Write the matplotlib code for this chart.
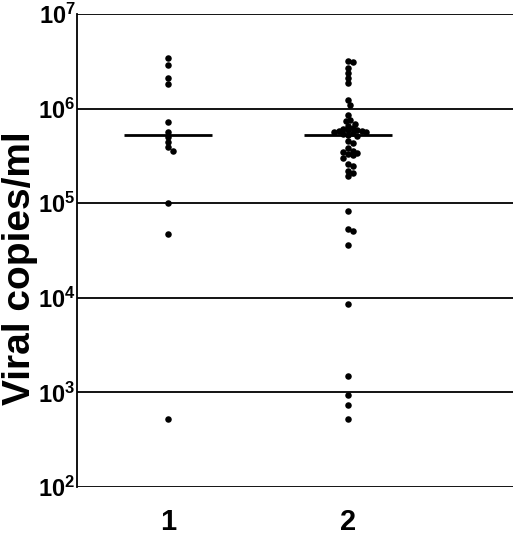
import numpy as np
import matplotlib
matplotlib.use("Agg")
import matplotlib.pyplot as plt

plt.rcParams['font.family'] = ['Liberation Sans', 'DejaVu Sans']
plt.rcParams['mathtext.fontset'] = 'custom'
plt.rcParams['mathtext.rm'] = 'Liberation Sans'
plt.rcParams['mathtext.bf'] = 'Liberation Sans:bold'

groups = ["1", "2"]
group1 = [3.4e6, 2.9e6, 2.1e6, 1.8e6, 7.2e5, 5.6e5, 5.0e5, 4.4e5, 3.9e5,
          3.6e5, 1.0e5, 4.7e4, 5.2e2]
group2 = [3.2e6, 3.1e6, 2.7e6, 2.4e6, 2.1e6, 1.85e6, 1.23e6, 1.1e6,
          8.5e5, 7.6e5, 7.4e5, 6.6e5, 6.9e5,
          6.2e5, 5.9e5, 6.1e5, 5.8e5, 6.0e5, 5.7e5, 5.8e5,
          5.4e5, 5.5e5, 5.2e5, 5.6e5, 5.1e5,
          4.6e5, 4.3e5,
          3.6e5, 3.8e5, 3.4e5, 3.3e5, 3.5e5,
          3.2e5, 3.0e5,
          2.6e5, 2.5e5,
          2.2e5, 2.1e5, 1.95e5,
          8.3e4, 5.4e4, 5.1e4, 3.6e4, 8.7e3, 1.5e3, 9.4e2, 7.4e2, 5.2e2]
medians = [5.3e5, 5.3e5]
ytick_vals = [1e2, 1e3, 1e4, 1e5, 1e6, 1e7]
ytick_labels = [r"$\mathbf{10^{2}}$", r"$\mathbf{10^{3}}$", r"$\mathbf{10^{4}}$",
                r"$\mathbf{10^{5}}$", r"$\mathbf{10^{6}}$", r"$\mathbf{10^{7}}$"]

fig = plt.figure(figsize=(5.2, 5.4), dpi=100)
ax = fig.add_axes([77/520, 1 - 487/540, (513-77)/520, (487-14)/540])
ax.set_yscale('log')
ax.set_ylim(1e2, 1e7)
ax.set_xlim(0.494, 2.917)

fig.canvas.draw()

def swarm(values, xc, diam_px=4.6):
    # beeswarm offsets computed in display space
    order = np.argsort(values)[::-1]
    placed = []
    offsets = np.zeros(len(values))
    trans = ax.transData
    x0, _ = trans.transform((xc, 1))
    cands = [0.0]
    for n in range(1, 20):
        cands += [n * 0.5 * diam_px, -n * 0.5 * diam_px]
    for i in order:
        _, yp = trans.transform((xc, values[i]))
        for dx in cands:
            if all((px - dx) ** 2 + (py - yp) ** 2 >= diam_px ** 2
                   for (px, py) in placed):
                placed.append((dx, yp))
                offsets[i] = trans.inverted().transform((x0 + dx, yp))[0]
                break
    return offsets

for gi, vals in enumerate([group1, group2]):
    xc = gi + 1
    xs = swarm(np.array(vals), xc)
    ax.scatter(xs, vals, s=22, color='black', zorder=3, linewidths=0)
    ax.plot([xc - 0.245, xc + 0.245], [medians[gi], medians[gi]],
            color='black', lw=2, zorder=2, solid_capstyle='butt')

for v in ytick_vals:
    ax.axhline(v, color='black', lw=1.3, zorder=1)

for s in ['top', 'right', 'bottom']:
    ax.spines[s].set_visible(False)
ax.spines['left'].set_linewidth(1.3)

ax.set_yticks(ytick_vals)
ax.set_yticklabels(ytick_labels, fontsize=17)
ax.yaxis.set_minor_locator(matplotlib.ticker.NullLocator())
ax.tick_params(axis='y', length=0, pad=1)
ax.set_xticks([1, 2])
ax.set_xticklabels(groups, fontsize=21, fontweight='bold')
ax.tick_params(axis='x', length=0, pad=15)
fig.text(20/520, 1 - 268/540, "Viral copies/ml", rotation=90, fontsize=28,
         fontweight='bold', ha='center', va='center')

fig.savefig("out.png", dpi=100)
